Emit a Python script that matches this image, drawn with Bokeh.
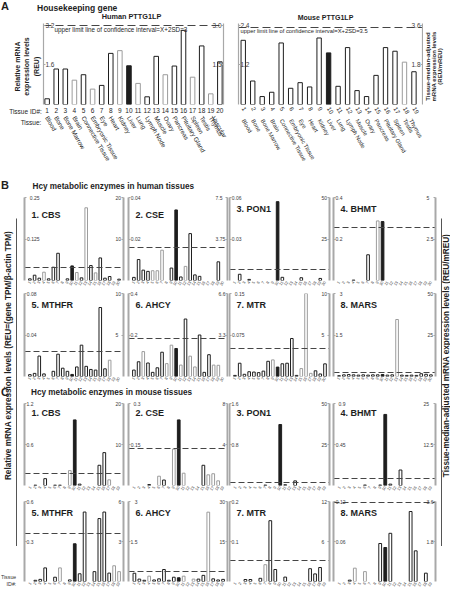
import math
from bokeh.plotting import figure
from bokeh.models import Range1d, LinearAxis, FixedTicker, Label, ColumnDataSource, Spacer
from bokeh.layouts import row, column
from bokeh.embed import file_html
from bokeh.resources import INLINE

FONT = "Liberation Sans"
INK = "#1e1e1e"
GRAY = "#9c9c9c"
AXIS_GRAY = "#a8a8a8"
DASH = "#454545"

# ------------------------------------------------------------------ data
tissue_names = ["Blood", "Bone", "Bone Marrow", "Brain", "Connective Tissue",
                "Embryonic Tissue", "Eye", "Heart", "Kidney", "Liver", "Lung",
                "Lymph Node", "Muscle", "Ovary", "Pancreas", "Pituitary Gland",
                "Spleen", "Testis", "Thymus", "Vascular"]
human_ids = list(range(1, 21))
mouse_ids = list(range(1, 20))
mouse_names = tissue_names[:19]
liver_id = 10

# Panel A: housekeeping gene PTTG1LP
pttg1lp_human = [0.23, 1.43, 1.43, 0.98, 1.2, 0.62, 0.77, 2.06, 2.17, 1.56,
                 0.85, 0.31, 1.94, 1.2, 1.55, 2.99, 1.1, 2.36, 0.43, 1.72]
pttg1lp_mouse = [1.94, 0.71, 0.24, 0.37, 1.86, 0.49, 0.66, 0.53, 2.01, 1.56,
                 0.55, 1.72, 0.42, 0.24, 0.88, 1.72, 1.61, 1.28, 0.99]
pttg1lp_human_gray = [4, 6, 9, 11, 14, 17, 19]
pttg1lp_mouse_gray = [18]
a_titles = ["Human PTTG1LP", "Mouse PTTG1LP"]
a_left_max = [3.2, 2.4]
a_right_max = [3.0, 3.6]
a_left_labels = [["1.6", "3.2"], ["1.2", "2.4"]]
a_right_labels = [["1.5", "3.0"], ["1.8", "3.6"]]
a_upper_limit = [3.0, 3.5]
a_upper_text = ["upper limit line of confidence interval=X+2SD=3",
                "upper limit line of confidence interval=X+2SD=3.5"]

# Panel B: human tissues (REU)
gene_titles = ["1. CBS", "2. CSE", "3. PON1", "4. BHMT",
               "5. MTHFR", "6. AHCY", "7. MTR", "8. MARS"]
b_cbs = [0.005, 0.016, 0.007, 0.025, 0.005, 0.04, 0.082, 0, 0.005, 0.044,
         0.024, 0.008, 0.219, 0.045, 0.023, 0.068, 0.007, 0.012, 0, 0.004]
b_cse = [0.0015, 0.0101, 0.005, 0.0044, 0.0047, 0.0047, 0.0146, 0, 0.006, 0.034,
         0.0017, 0.0068, 0.0226, 0.0027, 0.002, 0, 0, 0, 0.009, 0]
b_pon1 = [0, 0.0045, 0, 0.0008, 0, 0, 0, 0, 0, 0.057,
          0.0023, 0, 0, 0, 0.002, 0, 0, 0, 0.0015, 0]
b_bhmt = [0, 0, 0, 0.002, 0, 0, 0.124, 0, 0.287, 0.284,
          0, 0, 0, 0, 0, 0, 0, 0, 0, 0]
b_mthfr = [0.0018, 0.003, 0.0197, 0.0025, 0, 0.005, 0.0215, 0.008, 0.005, 0.002,
           0.0092, 0.0302, 0.0098, 0.0068, 0.0062, 0.0665, 0.0074, 0.0157, 0, 0]
b_ahcy = [0.031, 0.071, 0.12, 0.065, 0.02, 0.042, 0.117, 0.062, 0.151, 0.135,
          0.055, 0.277, 0.098, 0.046, 0.2, 0.02, 0.105, 0.055, 0.054, 0]
b_mtr = [0.002, 0.024, 0.004, 0.0086, 0.008, 0.007, 0.0097, 0.0275, 0.03, 0.017,
         0.023, 0.024, 0.0687, 0.002, 0.0143, 0.15, 0.0057, 0.0103, 0.0046, 0.0229]
b_mars = [0.03, 0.06, 0.07, 0.06, 0.05, 0.06, 0.05, 0.06, 0.06, 0.07,
          0.05, 0.06, 2.06, 0.05, 0.04, 0.05, 0.04, 0.1, 0.08, 0.06]
b_values = [b_cbs, b_cse, b_pon1, b_bhmt, b_mthfr, b_ahcy, b_mtr, b_mars]
b_gray = [[4, 11, 13, 15], [5, 6, 7, 12], [], [9], [18],
          [3, 8, 9, 11, 13, 14, 18, 19], [9, 15, 16, 17], [13]]
b_left_max = [0.25, 0.04, 0.06, 0.4, 0.08, 0.4, 0.15, 3]
b_right_max = [20, 7.5, 50, 5, 10, 6.6, 10, 50]
b_upper_limit = [3.17, 2.97, 6.6, 3.2, 3.0, 3.05, 3.4, 2.3]

# Panel C: mouse tissues (REU)
c_cbs = [0, 0.005, 0, 0.1, 0, 0.005, 0.005, 0, 0.218, 0.96,
         0.02, 0, 0, 0, 0.296, 0.481, 0.083, 0, 0]
c_cse = [0, 0, 0, 0.0035, 0, 0.034, 0.02, 0, 0.133, 0.24,
         0.045, 0, 0, 0, 0.074, 0.039, 0.043, 0.017, 0]
c_pon1 = [0, 0, 0, 0, 0, 0, 0.008, 0, 0, 1.19,
          0.015, 0, 0.09, 0, 0, 0, 0, 0, 0]
c_bhmt = [0, 0, 0, 0, 0, 0.005, 0, 0, 0.005, 0.78,
          0.015, 0, 0.17, 0, 0, 0, 0, 0, 0]
c_mthfr = [0, 0.009, 0.016, 0.102, 0, 0.032, 0.102, 0, 0.012, 0.283,
           0.058, 0.521, 0, 0.074, 0.472, 0.521, 0.063, 0.118, 0.074]
c_ahcy = [0.31, 0.09, 0.046, 0.2, 0.058, 0.1, 0.45, 0.046, 0.16, 0.14,
          0.2, 0, 0.09, 0.09, 0.23, 2.6, 0.1, 0.058, 0.08]
c_mtr = [0, 0, 0.005, 0.005, 0, 0.008, 0.042, 0.152, 0.03, 0,
         0.011, 0, 0, 0, 0, 0.032, 0.019, 0.035, 0]
c_mars = [0, 0, 0.002, 0.02, 0, 0.0148, 0, 0, 0.057, 0.051,
          0.0723, 0, 0, 0, 0.105, 0.046, 0, 0.0125, 0]
c_values = [c_cbs, c_cse, c_pon1, c_bhmt, c_mthfr, c_ahcy, c_mtr, c_mars]
c_gray = [[9, 17], [6, 9, 11, 16, 17, 18], [], [], [7, 18, 19],
          [4, 11, 13, 16], [7], [4, 6]]
c_left_max = [1.2, 0.3, 1.6, 0.9, 0.6, 3, 0.2, 0.12]
c_right_max = [20, 8, 50, 25, 6, 30, 12, 3.6]
c_upper_limit = [3.0, 3.6, 1.9, 2.1, 3.57, 3.9, 3.2, 3.55]

left_title = "Relative mRNA expression levels (REU=(gene TPM/\u03b2-actin TPM)"
right_title = "Tissue-median-adjusted mRNA expression levels (REU/mREU)"
a_left_title = ["Relative mRNA", "expression levels", "(REU)"]
a_right_title = ["Tissue-median-adjusted", "mRNA expression levels", "(REU/mREU)"]
row_captions = ["Tissue ID#:", "Tissue:"]

# ------------------------------------------------------------------ helpers
def fmt(v):
    return f"{v:g}"


def textw(s, fs):
    return sum(0.556 if ch.isdigit() else 0.278 for ch in s) * fs


def text(p, x, y, s, size, bold=False, align="left", baseline="middle",
         angle=0.0, color=INK):
    p.add_layout(Label(x=x, y=y, x_units="screen", y_units="screen", text=s,
                       text_font=FONT, text_font_size=f"{size}px",
                       text_font_style="bold" if bold else "normal",
                       text_align=align, text_baseline=baseline, angle=angle,
                       text_color=color))


def base_fig(w, h, xr, yr, bl, br, bt, bb, xloc="below", yloc="left"):
    p = figure(width=w, height=h, x_range=xr, y_range=yr, title=None,
               toolbar_location=None, output_backend="svg",
               x_axis_location=xloc, y_axis_location=yloc,
               min_border_left=bl, min_border_right=br,
               min_border_top=bt, min_border_bottom=bb)
    p.outline_line_color = None
    p.grid.grid_line_color = None
    p.background_fill_color = "white"
    p.border_fill_color = "white"
    return p


def text_fig(w, h, yloc=None, bl=0, br=0):
    return base_fig(w, h, Range1d(0, 1), Range1d(0, 1), bl, br, 0, 0, None, yloc)


def plain_xaxis(ax, fs, standoff, orient, color=INK):
    ax.major_label_text_font = FONT
    ax.major_label_text_font_size = f"{fs}px"
    ax.major_label_text_color = color
    ax.major_label_orientation = orient
    ax.major_label_standoff = standoff
    ax.axis_line_color = None
    ax.major_tick_line_color = None
    ax.minor_tick_line_color = None
    ax.major_tick_out = 0
    ax.minor_tick_out = 0


def inner_yaxis(ax, ticks, labels, fs, color, lw):
    ax.ticker = FixedTicker(ticks=ticks)
    ax.major_label_overrides = dict(zip(ticks, labels))
    ax.major_label_text_font = FONT
    ax.major_label_text_font_size = f"{fs}px"
    ax.major_label_text_color = "#3a3a3a"
    ax.axis_line_color = color
    ax.axis_line_width = lw
    ax.major_tick_line_color = color
    ax.major_tick_in = 2
    ax.major_tick_out = 0
    ax.minor_tick_in = 0
    ax.minor_tick_out = 0
    ax.minor_tick_line_color = None
    w = max(textw(s, fs) for s in labels)
    ax.major_label_standoff = -int(round(w + 2))


def line_axis(ax):
    ax.ticker = FixedTicker(ticks=[])
    ax.axis_line_color = "#555555"
    ax.axis_line_width = 1
    ax.major_tick_out = 0
    ax.minor_tick_out = 0
    ax.major_tick_line_color = None
    ax.minor_tick_line_color = None


def bar_source(ids, vals, gray):
    xs, tops, fills, lines = [], [], [], []
    for i, v in zip(ids, vals):
        if v <= 0:
            continue
        xs.append(i)
        tops.append(v)
        if i == liver_id:
            fills.append(INK)
            lines.append(INK)
        else:
            fills.append("white")
            lines.append(GRAY if i in gray else INK)
    return ColumnDataSource(dict(x=xs, top=tops, fill=fills, line=lines))


# ------------------------------------------------------------------ panel A
A_HDR = 20
A_TOP, A_FRAME, A_BOT = 3, 81, 74
A_H = A_TOP + A_FRAME + A_BOT
ID_FS, ID_STANDOFF = 6.5, 3


def make_a(k, ids, names, vals, gray, xr, w, bl, br, id_angle, id_fs, name_fs, bar_w):
    lmax, rmax = a_left_max[k], a_right_max[k]
    p = base_fig(w, A_H, Range1d(*xr), Range1d(0, lmax * 1.02), bl, br, A_TOP, A_BOT)
    p.extra_y_ranges = {"r": Range1d(0, rmax * 1.02)}
    p.vbar(x="x", top="top", width=bar_w, fill_color="fill", line_color="line",
           line_width=1, source=bar_source(ids, vals, gray))
    p.hspan(y=[a_upper_limit[k]], y_range_name="r", line_color=DASH,
            line_width=1.2, line_dash="8 4")
    inner_yaxis(p.yaxis[0], [lmax / 2, lmax], a_left_labels[k], 6.5, AXIS_GRAY, 1.2)
    ra = LinearAxis(y_range_name="r")
    inner_yaxis(ra, [rmax / 2, rmax], a_right_labels[k], 6.5, AXIS_GRAY, 1.2)
    p.add_layout(ra, "right")
    xa = p.xaxis[0]
    xa.ticker = FixedTicker(ticks=ids)
    plain_xaxis(xa, id_fs, ID_STANDOFF, id_angle)
    na = LinearAxis(ticker=FixedTicker(ticks=ids),
                    major_label_overrides={i: n for i, n in zip(ids, names)})
    plain_xaxis(na, name_fs, 1, -math.pi / 3)
    p.add_layout(na, "below")
    return p


a_h = make_a(0, human_ids, tissue_names, pttg1lp_human, pttg1lp_human_gray,
             (0.6, 20.4), 186, 1, 5, "horizontal", ID_FS, 6.2, 0.5)
a_m = make_a(1, mouse_ids, mouse_names, pttg1lp_mouse, pttg1lp_mouse_gray,
             (0.5, 19.9), 195, 10, 1, -math.pi / 3, 6, 5.8, 0.46)
text(a_h, 11, A_FRAME - 6, a_upper_text[0], 6.3)
text(a_m, 2, A_FRAME - 7, a_upper_text[1], 5.8)

a_hdr = text_fig(450, A_HDR)
text(a_hdr, 0.5, 9, "A", 11, bold=True, baseline="bottom")
text(a_hdr, 36.5, 13, "Housekeeping gene", 8.5, bold=True)
text(a_hdr, 131, 4, a_titles[0], 7.3, bold=True, align="center")
text(a_hdr, 325, 3.5, a_titles[1], 7, bold=True, align="center")

# left caption block of panel A (same borders as the charts beside it)
A_LEFT_W = 42
a_left = base_fig(A_LEFT_W, A_H, Range1d(0, A_LEFT_W), Range1d(0, 1), 0, 0,
                  A_TOP, A_BOT, "below", None)
for x, s in zip([16.7, 26.3, 36], a_left_title):
    text(a_left, x, 38, s, 7, bold=True, align="center", angle=math.pi / 2)
cap_ticks = [A_LEFT_W - 17, A_LEFT_W - 11.5]
ca = a_left.xaxis[0]
ca.ticker = FixedTicker(ticks=[cap_ticks[0]])
ca.major_label_overrides = {cap_ticks[0]: row_captions[0]}
plain_xaxis(ca, ID_FS, ID_STANDOFF, "horizontal")
cb = LinearAxis(ticker=FixedTicker(ticks=[cap_ticks[1]]),
                major_label_overrides={cap_ticks[1]: row_captions[1]})
plain_xaxis(cb, ID_FS, 1, "horizontal")
a_left.add_layout(cb, "below")

a_right = base_fig(27, A_H, Range1d(0, 1), Range1d(0, 1), 0, 0, A_TOP, A_BOT, None, None)
for x, s in zip([4.5, 10.5, 16.5], a_right_title):
    text(a_right, x, 38, s, 6, bold=True, align="center", angle=math.pi / 2)

# ------------------------------------------------------------------ panels B & C
COLS = [(104, 2, 3), (102, 2, 1), (103, 1, 2), (109, 2, 5)]  # width, left, right border
ROW_B1, ROW_B2, ROW_C1, ROW_C2 = (99, 6, 10), (96, 3, 10), (96, 5, 9), (96, 7, 8)
b_title_dy = [17, 17, 11, 11, 11, 11, 11, 11]
c_title_dy = [9, 9, 9, 9, 12, 12, 12, 12]


def make_small(title, ids, vals, gray, lmax, rmax, thr, xr, col, rowg, tdy):
    w, bl, br = col
    h, bt, bb = rowg
    p = base_fig(w, h, Range1d(*xr), Range1d(0, lmax), bl, br, bt, bb)
    p.extra_y_ranges = {"r": Range1d(0, rmax)}
    p.vbar(x="x", top="top", width=0.55, fill_color="fill", line_color="line",
           line_width=1, source=bar_source(ids, vals, gray))
    p.hspan(y=[thr], y_range_name="r", line_color=DASH, line_width=1.2,
            line_dash="6 3")
    inner_yaxis(p.yaxis[0], [lmax / 2, lmax], [fmt(lmax / 2), fmt(lmax)], 5,
                AXIS_GRAY, 2)
    ra = LinearAxis(y_range_name="r")
    inner_yaxis(ra, [rmax / 2, rmax], [fmt(rmax / 2), fmt(rmax)], 5, AXIS_GRAY, 2)
    p.add_layout(ra, "right")
    xa = p.xaxis[0]
    xa.ticker = FixedTicker(ticks=ids)
    plain_xaxis(xa, 4, 1, 1.0, "#333333")
    frame_h = h - bt - bb
    text(p, 7, frame_h - tdy, title, 9, bold=True)
    return p


def panel_rows(ids, values, grays, lmaxs, rmaxs, thrs, xr, rows, tdys):
    out = []
    for r in range(2):
        figs = []
        for c in range(4):
            k = r * 4 + c
            figs.append(make_small(gene_titles[k], ids, values[k], grays[k],
                                   lmaxs[k], rmaxs[k], thrs[k], xr, COLS[c],
                                   rows[r], tdys[k]))
        out.append(row(*figs))
    return out


b_rows = panel_rows(human_ids, b_values, b_gray, b_left_max, b_right_max,
                    b_upper_limit, (-0.15, 20.95), [ROW_B1, ROW_B2], b_title_dy)
c_rows = panel_rows(mouse_ids, c_values, c_gray, c_left_max, c_right_max,
                    c_upper_limit, (-0.2, 19.9), [ROW_C1, ROW_C2], c_title_dy)

MID_W = sum(c[0] for c in COLS)
hdr_b = text_fig(MID_W, 13)
text(hdr_b, 10, 5, "Hcy metabolic enzymes in human tissues", 8.2, bold=True)
hdr_c = text_fig(MID_W, 12)
text(hdr_c, 8.5, 6, "Hcy metabolic enzymes in mouse tissues", 8.2, bold=True)

# left / right side columns (title lines spanning B and C); equal borders
SIDE_TOP, SIDE_MID, SIDE_BOT = 40, 328, 44
SIDE_W, SIDE_BR = 22, 6
left_top = text_fig(SIDE_W, SIDE_TOP, bl=0, br=SIDE_BR)
text(left_top, 0.5, 28, "B", 11, bold=True, baseline="bottom")
left_mid = base_fig(SIDE_W, SIDE_MID, Range1d(0, 1), Range1d(0, 1), 0, SIDE_BR, 0, 0,
                    None, "right")
line_axis(left_mid.yaxis[0])
text(left_mid, 7.5, 191, left_title, 8.2, bold=True, align="center", angle=math.pi / 2)
text(left_mid, 0.5, 149, "C", 11, bold=True, baseline="bottom")
left_bot = text_fig(SIDE_W, SIDE_BOT, bl=0, br=SIDE_BR)
text(left_bot, 15.8, 14, "Tissue", 5.3, align="right", color="#333333")
text(left_bot, 15.8, 7, "ID#:", 5.3, align="right", color="#333333")

right_mid = base_fig(10, SIDE_MID, Range1d(0, 1), Range1d(0, 1), 1, 0, 0, 0, None, "left")
line_axis(right_mid.yaxis[0])
text(right_mid, 4.5, 191, right_title, 8.2, bold=True, align="center", angle=math.pi / 2)

layout = column(
    a_hdr,
    row(a_left, a_h, a_m, a_right),
    row(column(left_top, left_mid, left_bot),
        column(hdr_b, b_rows[0], b_rows[1], hdr_c, c_rows[0], c_rows[1]),
        column(Spacer(width=10, height=SIDE_TOP), right_mid,
               Spacer(width=10, height=SIDE_BOT))),
)

open("out.html", "w").write(file_html(layout, INLINE))
